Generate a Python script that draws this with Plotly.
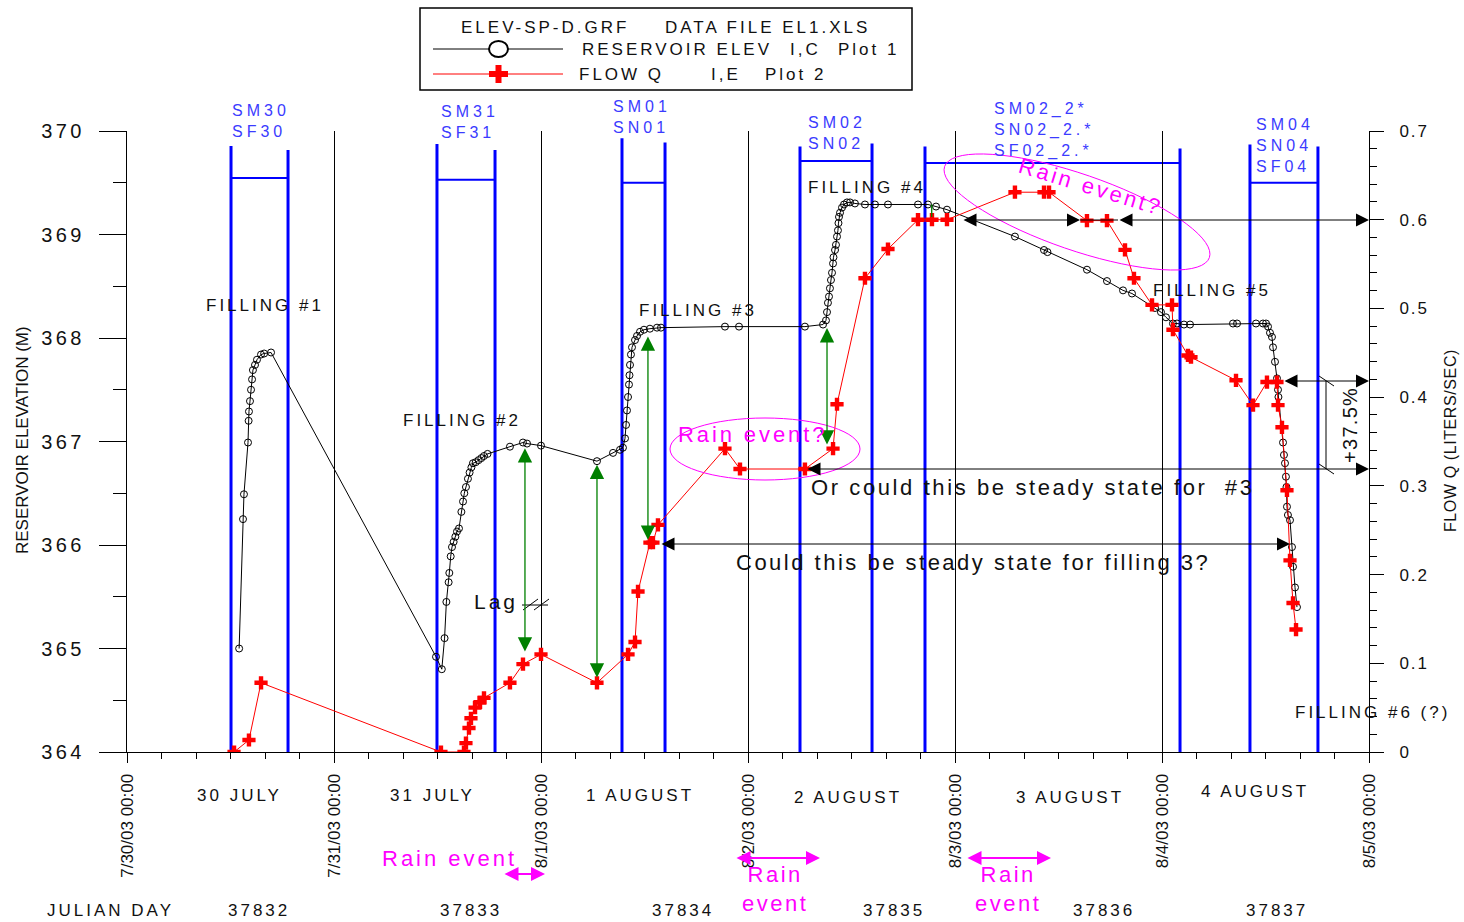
import math
import plotly.graph_objects as go

# ---------------- DATA (hours since 7/30/03 00:00) ----------------
elev_hours = [13.0, 13.45, 13.56, 14.03, 14.1, 14.14, 14.26, 14.38, 14.5, 14.6, 14.84, 15.07, 15.54, 15.9, 16.7,
              35.83, 36.5, 36.82, 37.03, 37.29, 37.37, 37.53, 37.68, 37.87, 38.07, 38.26, 38.49, 38.77, 38.96, 39.11,
              39.3, 39.53, 39.72, 39.93, 40.11, 40.43, 40.76, 41.09, 41.39, 41.8, 44.4, 45.91, 46.38, 48.0, 54.49,
              56.35, 57.16,
              57.5, 57.74, 57.86, 57.97, 58.09, 58.2, 58.26, 58.32, 58.43, 58.55, 58.9, 59.13, 59.48, 59.94, 60.63,
              61.45, 61.91, 69.33, 70.96, 78.6, 80.7,
              81.04, 81.16, 81.27, 81.39, 81.5, 81.62, 81.74, 81.86, 81.91, 82.09, 82.2, 82.32, 82.43, 82.49, 82.55,
              82.67, 82.9, 83.13, 83.48, 83.83, 84.4, 85.56, 86.72, 88.23, 91.71, 92.87, 93.8, 95.07,
              102.95, 106.32, 106.72, 111.3, 113.62, 115.48, 116.52, 119.19, 119.88, 120.46, 121.27, 121.74, 122.55,
              123.25, 128.23, 128.7, 130.9, 131.71, 132.06, 132.29, 132.52, 132.75, 132.87, 133.1, 133.33, 133.45,
              133.5, 134.03, 134.14, 134.26, 134.37, 134.43, 134.49, 134.6, 134.84, 135.07, 135.19, 135.42, 135.65]
elev_m = [365.0, 366.25, 366.49, 366.99, 367.2, 367.29, 367.39, 367.5, 367.6, 367.69, 367.74, 367.79, 367.84, 367.85, 367.86,
          364.92, 364.8, 365.1, 365.45, 365.64, 365.73, 365.89, 365.98, 366.03, 366.08, 366.13, 366.16, 366.32, 366.42, 366.5,
          366.56, 366.64, 366.7, 366.75, 366.79, 366.8, 366.82, 366.84, 366.86, 366.88, 366.95, 366.99, 366.98, 366.96, 366.81,
          366.89, 366.92,
          366.94, 367.03, 367.16, 367.3, 367.43, 367.55, 367.64, 367.74, 367.84, 367.91, 367.98, 368.02, 368.06, 368.08, 368.09,
          368.1, 368.1, 368.11, 368.11, 368.11, 368.13,
          368.17, 368.25, 368.34, 368.4, 368.48, 368.56, 368.63, 368.72, 368.78, 368.85, 368.9, 368.98, 369.04, 369.11, 369.17,
          369.21, 369.26, 369.29, 369.31, 369.31, 369.3, 369.29, 369.29, 369.29, 369.29, 369.29, 369.27, 369.24,
          368.98, 368.85, 368.83, 368.66, 368.55, 368.46, 368.43, 368.29, 368.25, 368.2, 368.14, 368.14, 368.13,
          368.13, 368.14, 368.14, 368.14, 368.14, 368.14, 368.11, 368.05, 368.01, 367.91, 367.77, 367.61, 367.5,
          367.43, 366.99, 366.87, 366.79, 366.66, 366.56, 366.37, 366.29, 366.24, 365.98, 365.79, 365.59, 365.4]

flow_hours = [12.41, 14.14, 15.54, 36.4, 39.07, 39.3, 39.65, 39.88, 40.35, 40.93, 41.39, 44.4, 45.91, 48.0, 54.49,
              58.09, 58.9, 59.25, 60.63, 60.98, 61.56, 69.33, 71.07, 78.6, 81.86, 82.32, 85.56, 88.23, 91.71, 93.33,
              95.07, 102.95, 106.32, 106.9, 111.3, 113.62, 115.71, 116.75, 118.84, 121.16, 121.27, 123.01, 123.36,
              128.58, 130.55, 132.17, 133.33, 133.45, 133.91, 134.49, 134.84, 135.19, 135.54]
flow_q = [0.0, 0.0135, 0.078, 0.0, 0.0, 0.010, 0.027, 0.038, 0.050, 0.056, 0.061, 0.078, 0.099, 0.110, 0.078,
          0.110, 0.124, 0.181, 0.236, 0.236, 0.256, 0.342, 0.319, 0.319, 0.342, 0.392, 0.534, 0.567, 0.600, 0.600,
          0.600, 0.631, 0.631, 0.631, 0.599, 0.599, 0.566, 0.534, 0.504, 0.504, 0.476, 0.447, 0.445,
          0.419, 0.391, 0.417, 0.417, 0.391, 0.366, 0.295, 0.216, 0.168, 0.138]

day_tickvals = [0, 24, 48, 72, 96, 120, 144]
day_ticktext = ["7/30/03 00:00", "7/31/03 00:00", "8/1/03 00:00", "8/2/03 00:00",
                "8/3/03 00:00", "8/4/03 00:00", "8/5/03 00:00"]
elev_tickvals = [364, 365, 366, 367, 368, 369, 370]
elev_ticktext = ["364", "365", "366", "367", "368", "369", "370"]
flow_tickvals = [0, 0.1, 0.2, 0.3, 0.4, 0.5, 0.6, 0.7]
flow_ticktext = ["0", "0.1", "0.2", "0.3", "0.4", "0.5", "0.6", "0.7"]
day_names = ["30 JULY", "31 JULY", "1 AUGUST", "2 AUGUST", "3 AUGUST", "4 AUGUST"]
julian_days = ["37832", "37833", "37834", "37835", "37836", "37837"]

# sampling periods (blue brackets): start/end hour, top elevations, bar elevation
sample_periods = [(12.06, 18.67), (35.94, 42.67), (57.39, 62.38), (78.03, 86.38), (92.52, 122.09), (130.2, 138.08)]
sample_tops = [(369.855, 369.816), (369.874, 369.816), (369.93, 369.89), (369.85, 369.88), (369.85, 369.83), (369.87, 369.85)]
sample_bars = [369.546, 369.53, 369.50, 369.71, 369.69, 369.50]
sample_labels = [["SM30", "SF30"], ["SM31", "SF31"], ["SM01", "SN01"], ["SM02", "SN02"],
                 ["SM02_2*", "SN02_2.*", "SF02_2.*"], ["SM04", "SN04", "SF04"]]

# lag arrows (hour, elev top, elev bottom)
lag_arrows = [(46.14, 366.95, 364.97), (54.49, 366.79, 364.72), (60.4, 368.03, 366.05), (81.16, 368.11, 366.97)]

# ---------------- LAYOUT GEOMETRY ----------------
W, H = 1464, 922
L, R, T, B = 127, 1369, 131, 752


def PX(x):
    return (x - L) / (R - L)


def PY(y):
    return (B - y) / (B - T)


FONT = "Liberation Sans, Arial, sans-serif"
INK = "#111111"
BLUE = "#0000ff"
LBLUE = "#3b3bff"
MAG = "#ff00ff"
GREEN = "#008000"


def sp(txt, ls):
    return f'<span style="letter-spacing:{ls}px">{txt}</span>'


def label(txt, x, y, size=17, color=INK, angle=0, xanchor="center", align="center", ls=3):
    lines = txt if isinstance(txt, list) else [txt]
    return dict(x=PX(x), y=PY(y), xref="paper", yref="paper", text="<br>".join(sp(t, ls) for t in lines),
                showarrow=False, xanchor=xanchor, yanchor="middle", align=align, textangle=angle,
                font=dict(family=FONT, size=size, color=color))


fig = go.Figure()
fig.add_trace(go.Scatter(x=elev_hours, y=elev_m, mode="lines+markers", yaxis="y",
                         line=dict(color="black", width=1),
                         marker=dict(symbol="circle-open", size=7, color="black", line=dict(width=1)),
                         showlegend=False, name="RESERVOIR ELEV"))
fig.add_trace(go.Scatter(x=flow_hours, y=flow_q, mode="lines+markers", yaxis="y2",
                         line=dict(color="red", width=1),
                         marker=dict(symbol="cross", size=11, color="red", line=dict(width=0)),
                         showlegend=False, name="FLOW Q"))

shapes = []
annotations = []

# blue sampling brackets
for (h0, h1), (t0, t1), bar in zip(sample_periods, sample_tops, sample_bars):
    shapes.append(dict(type="line", xref="x", yref="y", x0=h0, x1=h0, y0=364, y1=t0,
                       line=dict(color=BLUE, width=3), layer="below"))
    shapes.append(dict(type="line", xref="x", yref="y", x0=h1, x1=h1, y0=364, y1=t1,
                       line=dict(color=BLUE, width=3), layer="below"))
    shapes.append(dict(type="line", xref="x", yref="y", x0=h0, x1=h1, y0=bar, y1=bar,
                       line=dict(color=BLUE, width=2), layer="below"))

label_px = [(230, 121.5), (439, 122.5), (611, 117), (806, 133), (992, 130), (1254, 145)]
for txt, (x, y) in zip(sample_labels, label_px):
    annotations.append(label(txt, x, y, size=16, color=LBLUE, xanchor="left", align="left", ls=4))

# green lag arrows
for h, e0, e1 in lag_arrows:
    annotations.append(dict(x=h, y=e1, xref="x", yref="y", ax=h, ay=e0, axref="x", ayref="y", text="",
                            showarrow=True, arrowside="end+start", arrowhead=2, startarrowhead=2,
                            arrowsize=2.2, startarrowsize=2.2, arrowwidth=1.3, arrowcolor=GREEN))
shapes.append(dict(type="line", xref="x", yref="y", x0=93.3, x1=93.3, y0=369.17, y1=369.29,
                   line=dict(color=GREEN, width=1.3)))


def arrow(x1, y1, x2, y2, color="black", width=1, size=2.6):
    return dict(x=PX(x2), y=PY(y2), xref="paper", yref="paper", ax=x1 - x2, ay=y1 - y2,
                axref="pixel", ayref="pixel", text="", showarrow=True, arrowside="end+start",
                arrowhead=2, startarrowhead=2, arrowsize=size, startarrowsize=size,
                arrowwidth=width, arrowcolor=color)


for a in [(962, 220, 1080, 220), (1118, 220, 1369, 220), (806, 469, 1369, 469),
          (660, 544, 1290, 544), (1283, 381, 1369, 381)]:
    annotations.append(arrow(*a))
shapes.append(dict(type="line", xref="paper", yref="paper", x0=PX(1080), x1=PX(1118), y0=PY(220), y1=PY(220),
                   line=dict(color="black", width=1)))

# +37.5% dimension
shapes.append(dict(type="line", xref="paper", yref="paper", x0=PX(1326), x1=PX(1326), y0=PY(381), y1=PY(469),
                   line=dict(color="black", width=1)))
for yy in (381, 469):
    shapes.append(dict(type="line", xref="paper", yref="paper", x0=PX(1319), x1=PX(1334), y0=PY(yy - 5),
                       y1=PY(yy + 5), line=dict(color="black", width=1)))
annotations.append(label("+37.5%", 1350, 425, size=20, angle=-90, ls=1.3))

# Lag label and slash marks
annotations.append(label("Lag", 496, 601, size=21, ls=3))
for x0 in (523, 534):
    shapes.append(dict(type="line", xref="paper", yref="paper", x0=PX(x0), x1=PX(x0 + 15), y0=PY(610),
                       y1=PY(599), line=dict(color="black", width=1)))
shapes.append(dict(type="line", xref="paper", yref="paper", x0=PX(522), x1=PX(548), y0=PY(605),
                   y1=PY(605), line=dict(color="black", width=1)))

# magenta ellipses
shapes.append(dict(type="circle", xref="paper", yref="paper", x0=PX(670), x1=PX(860), y0=PY(480), y1=PY(418),
                   line=dict(color=MAG, width=1)))
cx, cy, ra, rb, th = 1077, 212, 140, 38, math.radians(19)
pts = []
for k in range(73):
    p = 2 * math.pi * k / 72
    ex = cx + ra * math.cos(p) * math.cos(th) - rb * math.sin(p) * math.sin(th)
    ey = cy + ra * math.cos(p) * math.sin(th) + rb * math.sin(p) * math.cos(th)
    pts.append((PX(ex), PY(ey)))
path = "M " + " L ".join(f"{a:.5f},{b:.5f}" for a, b in pts) + " Z"
shapes.append(dict(type="path", xref="paper", yref="paper", path=path, line=dict(color=MAG, width=1)))

annotations.append(label("Rain event?", 752, 435, size=22, color=MAG, ls=2.9))
annotations.append(label("Rain event?", 1090, 187, size=22, color=MAG, angle=17, ls=2.9))

# steady-state texts
annotations.append(label("Or could this be steady state for  #3", 1033, 487, size=22, ls=2.6))
annotations.append(label("Could this be steady state for filling 3?", 973, 562, size=22, ls=2.5))

# filling labels
for txt, x, y in [("FILLING #1", 265, 305), ("FILLING #2", 462, 420), ("FILLING #3", 698, 310),
                  ("FILLING #4", 867, 188), ("FILLING #5", 1212, 290), ("FILLING #6 (?)", 1372, 712)]:
    annotations.append(label(txt, x, y, size=17, ls=3))

# day names and julian days
for txt, x, y in zip(day_names, [239, 432, 640, 848, 1070, 1255], [795, 795, 795, 797, 797, 791]):
    annotations.append(label(txt, x, y, size=17, ls=3))
annotations.append(label("JULIAN DAY", 110, 910, size=17, ls=3))
for txt, x in zip(julian_days, [259, 471, 683, 894, 1104, 1277]):
    annotations.append(label(txt, x, 910, size=17, ls=3))

# bottom rain events
annotations.append(label("Rain event", 449, 859, size=22, color=MAG, ls=3))
annotations.append(arrow(503, 874, 545, 874, color=MAG, width=2, size=1.4))
annotations.append(arrow(735, 858, 820, 858, color=MAG, width=2, size=1.4))
annotations.append(arrow(966, 858, 1051, 858, color=MAG, width=2, size=1.4))
for x in (775, 1008):
    annotations.append(label(["Rain", "event"], x, 889, size=22, color=MAG, ls=2.5))

# axis titles
annotations.append(label("RESERVOIR ELEVATION (M)", 22, 440, size=17, angle=-90, ls=0))
annotations.append(label("FLOW Q (LITERS/SEC)", 1450, 441, size=16, angle=-90, ls=0.6))

# legend box
shapes.append(dict(type="rect", xref="paper", yref="paper", x0=PX(420), x1=PX(912), y0=PY(90), y1=PY(8),
                   line=dict(color="black", width=1.5)))
shapes.append(dict(type="line", xref="paper", yref="paper", x0=PX(433), x1=PX(563), y0=PY(49), y1=PY(49),
                   line=dict(color="black", width=1)))
shapes.append(dict(type="circle", xref="paper", yref="paper", x0=PX(489), x1=PX(508), y0=PY(57), y1=PY(41),
                   line=dict(color="black", width=2), fillcolor="white"))
shapes.append(dict(type="line", xref="paper", yref="paper", x0=PX(433), x1=PX(563), y0=PY(74), y1=PY(74),
                   line=dict(color="red", width=1)))
shapes.append(dict(type="rect", xref="paper", yref="paper", x0=PX(489), x1=PX(508), y0=PY(77), y1=PY(71),
                   line=dict(width=0), fillcolor="red"))
shapes.append(dict(type="rect", xref="paper", yref="paper", x0=PX(495.5), x1=PX(501.5), y0=PY(83), y1=PY(65),
                   line=dict(width=0), fillcolor="red"))
for txt, x, y in [("ELEV-SP-D.GRF", 545, 28), ("DATA FILE EL1.XLS", 767, 28),
                  ("RESERVOIR ELEV", 677, 49), ("I,C", 805, 49), ("Plot 1", 868, 49),
                  ("FLOW Q", 621, 74), ("I,E", 726, 74), ("Plot 2", 796, 74)]:
    annotations.append(label(txt, x, y, size=17, ls=3))

fig.update_layout(
    width=W, height=H,
    margin=dict(l=L, r=W - R, t=T, b=H - B),
    paper_bgcolor="white", plot_bgcolor="white",
    showlegend=False,
    xaxis=dict(range=[0, 144], tickmode="array", tickvals=day_tickvals, ticktext=day_ticktext,
               tickangle=-90, ticks="outside", ticklen=10, tickcolor="black", tickwidth=1,
               showline=True, linecolor="black", linewidth=1, showgrid=True, gridcolor="black", gridwidth=1,
               zeroline=False, ticklabelstandoff=4,
               tickfont=dict(family=FONT, size=17, color=INK),
               minor=dict(tickmode="linear", tick0=0, dtick=4, ticks="outside", ticklen=6, tickcolor="black",
                          showgrid=False)),
    yaxis=dict(range=[364, 370], tickmode="array", tickvals=elev_tickvals,
               ticktext=[sp(t, 3.5) for t in elev_ticktext], ticks="outside", ticklen=27,
               tickcolor="black", showline=True, linecolor="black", linewidth=1, showgrid=False,
               zeroline=False, ticklabelstandoff=10,
               tickfont=dict(family=FONT, size=20, color=INK),
               minor=dict(tickmode="linear", tick0=364, dtick=0.5, ticks="outside", ticklen=13,
                          tickcolor="black", showgrid=False)),
    yaxis2=dict(range=[0, 0.7], overlaying="y", side="right", tickmode="array", tickvals=flow_tickvals,
                ticktext=[sp(t, 2) for t in flow_ticktext],
                ticks="outside", ticklen=14, tickcolor="black", showline=True, linecolor="black", linewidth=1,
                showgrid=False, zeroline=False, ticklabelstandoff=12,
                tickfont=dict(family=FONT, size=17, color=INK),
                minor=dict(tickmode="linear", tick0=0, dtick=0.02, ticks="outside", ticklen=7,
                           tickcolor="black", showgrid=False)),
    shapes=shapes,
    annotations=annotations,
)

fig.write_html("out.html", config={"displayModeBar": False},
               post_script="document.body.style.margin='0';document.body.style.overflow='hidden';")
